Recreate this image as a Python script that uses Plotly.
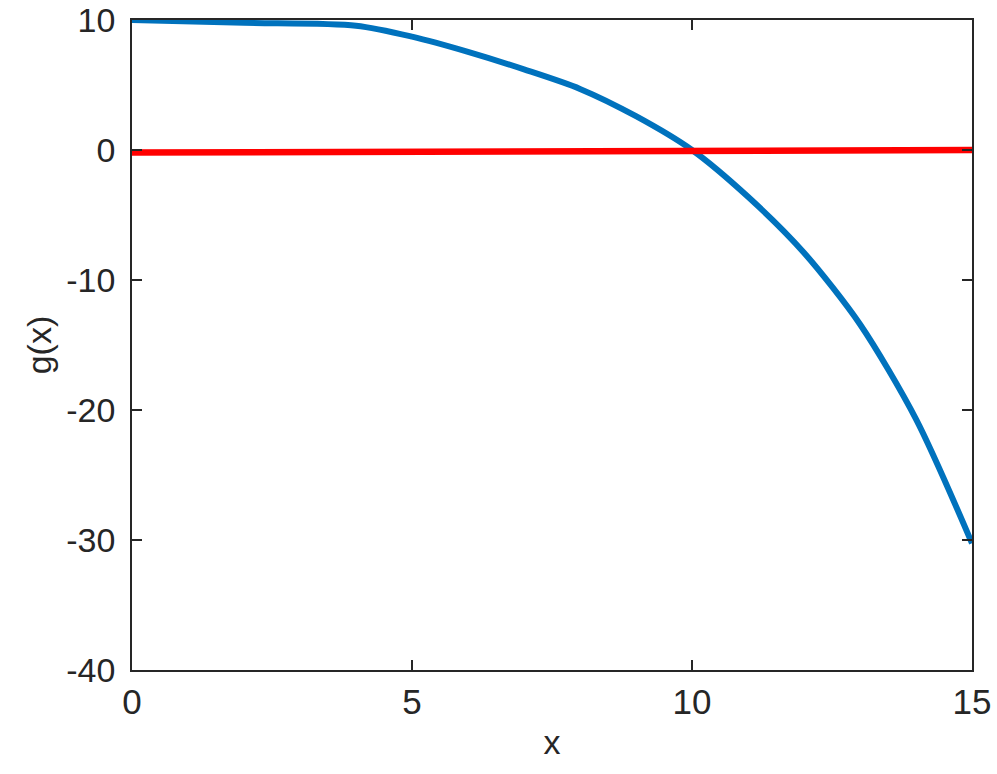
import plotly.graph_objects as go

# g(x) curve, values
x_g = [0, 2, 4, 5, 6, 7, 8, 9, 10, 11, 12, 13, 14, 15]
y_g = [10.0, 9.78, 9.56, 8.72, 7.55, 6.2, 4.7, 2.6, 0.0, -3.6, -7.9, -13.4, -20.7, -30.25]

# nearly flat red reference line
x_ref = [0, 15]
y_ref = [-0.2, 0.0]

x_ticks = [0, 5, 10, 15]
y_ticks = [-40, -30, -20, -10, 0, 10]
y_tick_text = ["-40", "-30", "-20", "-10", "0", "10"]

AXIS_COLOR = "#262626"
FONT = "Liberation Sans, Arial, Helvetica, sans-serif"

fig = go.Figure()
fig.add_trace(go.Scatter(x=x_g, y=y_g, mode="lines",
                         line=dict(color="#0072BD", width=6, shape="spline", smoothing=0.8)))
fig.add_trace(go.Scatter(x=x_ref, y=y_ref, mode="lines",
                         line=dict(color="#FF0000", width=6.5)))

axis_common = dict(
    showgrid=False, zeroline=False,
    showline=True, linecolor=AXIS_COLOR, linewidth=1.5,
    mirror="ticks", ticks="inside", ticklen=10, tickwidth=1.5,
    tickcolor=AXIS_COLOR, ticklabeloverflow="allow", automargin=False,
)

fig.update_xaxes(range=[0, 15], tickvals=x_ticks,
                 tickfont=dict(family=FONT, size=35, color=AXIS_COLOR),
                 title=dict(text="x", font=dict(family=FONT, size=34, color=AXIS_COLOR),
                            standoff=10),
                 **axis_common)
fig.update_yaxes(range=[-40, 10], tickvals=y_ticks, ticktext=y_tick_text,
                 tickfont=dict(family=FONT, size=34, color=AXIS_COLOR),
                 ticklabelstandoff=8,
                 title=dict(text="g(x)", font=dict(family=FONT, size=34, color=AXIS_COLOR),
                            standoff=4),
                 **axis_common)

fig.update_layout(
    width=997, height=774,
    margin=dict(l=132, r=25, t=20, b=104),
    plot_bgcolor="white", paper_bgcolor="white",
    showlegend=False,
)

# drop the default 8px body margin so the figure sits at the page corner
fig.write_html("out.html",
               config={"displayModeBar": False},
               post_script="document.body.style.margin='0';document.body.style.overflow='hidden';")
